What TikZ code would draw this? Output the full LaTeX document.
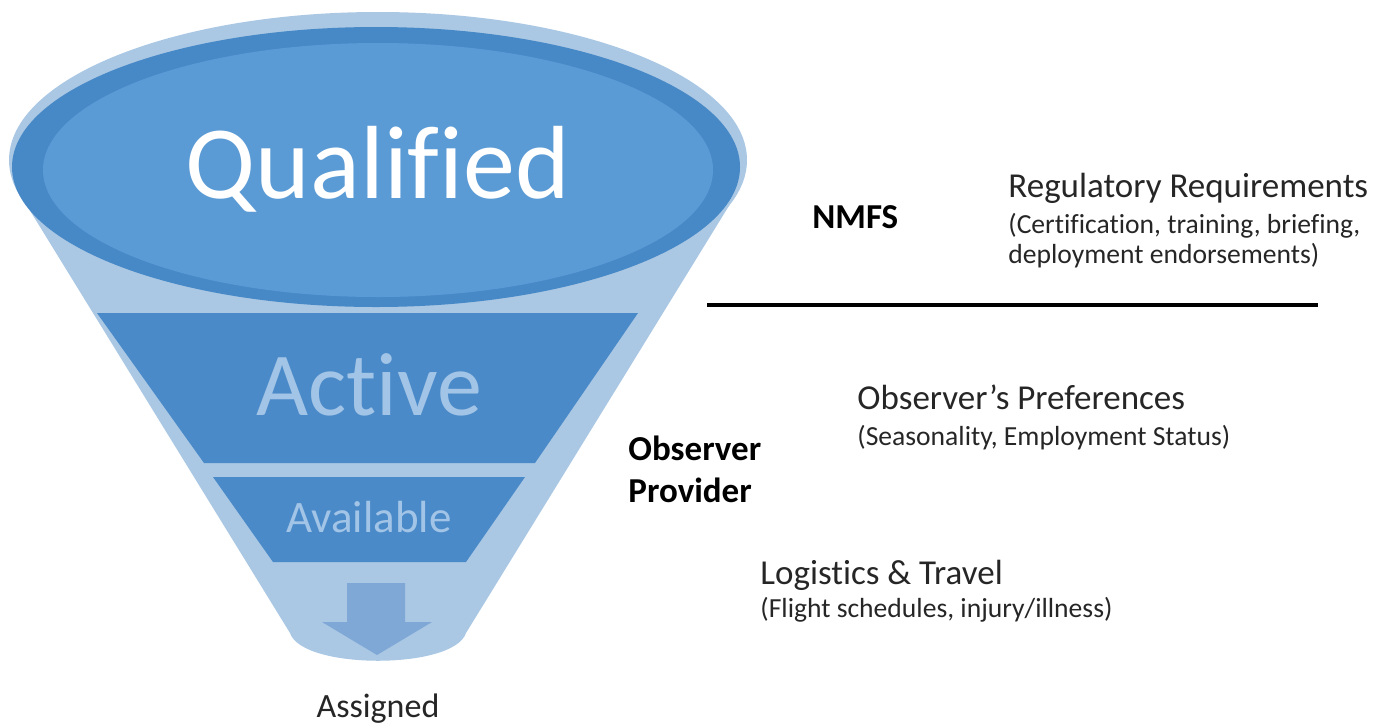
\documentclass[tikz,border=0pt]{standalone}
\usepackage{fontspec}
\setmainfont{Carlito}[Ligatures=NoCommon]
\definecolor{funnellight}{HTML}{AAC8E4}
\definecolor{ringdark}{HTML}{4788C7}
\definecolor{topfill}{HTML}{5B9BD5}
\definecolor{bandfill}{HTML}{4A8AC9}
\definecolor{bandtext}{HTML}{A2C4E6}
\definecolor{arrowfill}{HTML}{7FA8D6}
\definecolor{txtgray}{HTML}{262626}
\begin{document}
\begin{tikzpicture}[x=0.5pt,y=-0.5pt,
  lbl/.style={inner sep=0pt, anchor=base west, text=txtgray},
  boldlbl/.style={inner sep=0pt, anchor=base west, text=black, font=\bfseries\fontsize{17.5}{20}\selectfont},
  headlbl/.style={lbl, font=\fontsize{17.5}{20}\selectfont},
  sublbl/.style={lbl, font=\fontsize{13.8}{16}\selectfont},
  funneltxt/.style={inner sep=0pt, anchor=base}]
\useasboundingbox (0,0) rectangle (1375,724);
% funnel body
\fill[funnellight] (378,160) ellipse [x radius=369, y radius=148];
\fill[funnellight] (21,196) -- (290,633) .. controls (302,670) and (454,670) .. (466,633) -- (735,196) -- cycle;
% top ellipse
\fill[ringdark] (376,167) ellipse [x radius=364, y radius=140];
\fill[topfill] (378,170) ellipse [x radius=335, y radius=127];
% bands
\fill[bandfill] (97,313) -- (638,313) -- (535,463) -- (204,463) -- cycle;
\fill[bandfill] (213,477) -- (525,477) -- (466,562) -- (273,562) -- cycle;
% arrow
\fill[arrowfill] (347,583) -- (405,583) -- (405,622) -- (432,622) -- (377,655) -- (322,622) -- (347,622) -- cycle;
% funnel labels
\node[funneltxt, text=white, font=\fontsize{52}{60}\selectfont] (qual) at (378,198) {Qualified};
\node[funneltxt, text=bandtext, font=\fontsize{45}{52}\selectfont] (act) at (369,415) {Active};
\node[funneltxt, text=bandtext, font=\fontsize{22.5}{26}\selectfont] (avail) at (369,532) {Available};
\node[funneltxt, text=txtgray, font=\fontsize{17}{20}\selectfont] (assign) at (378,717) {Assigned};
% right side
\node[boldlbl] (nmfs) at (812,228) {NMFS};
\node[headlbl] (reg) at (1008,197) {Regulatory Requirements};
\node[sublbl] (reg1) at (1008,233) {(Certification, training, briefing,};
\node[sublbl] (reg2) at (1008,263) {deployment endorsements)};
\coordinate (sepL) at (707,305);
\coordinate (sepR) at (1318,305);
\draw[line width=1.6pt, black] (sepL) -- (sepR);
\node[headlbl] (pref) at (857,409) {Observer’s Preferences};
\node[sublbl] (pref1) at (857,445) {(Seasonality, Employment Status)};
\node[boldlbl] (obs) at (628,460) {Observer};
\node[boldlbl] (prov) at (628,502) {Provider};
\node[headlbl] (log) at (760,584) {Logistics \& Travel};
\node[sublbl] (log1) at (760,617) {(Flight schedules, injury/illness)};
\end{tikzpicture}
\end{document}
